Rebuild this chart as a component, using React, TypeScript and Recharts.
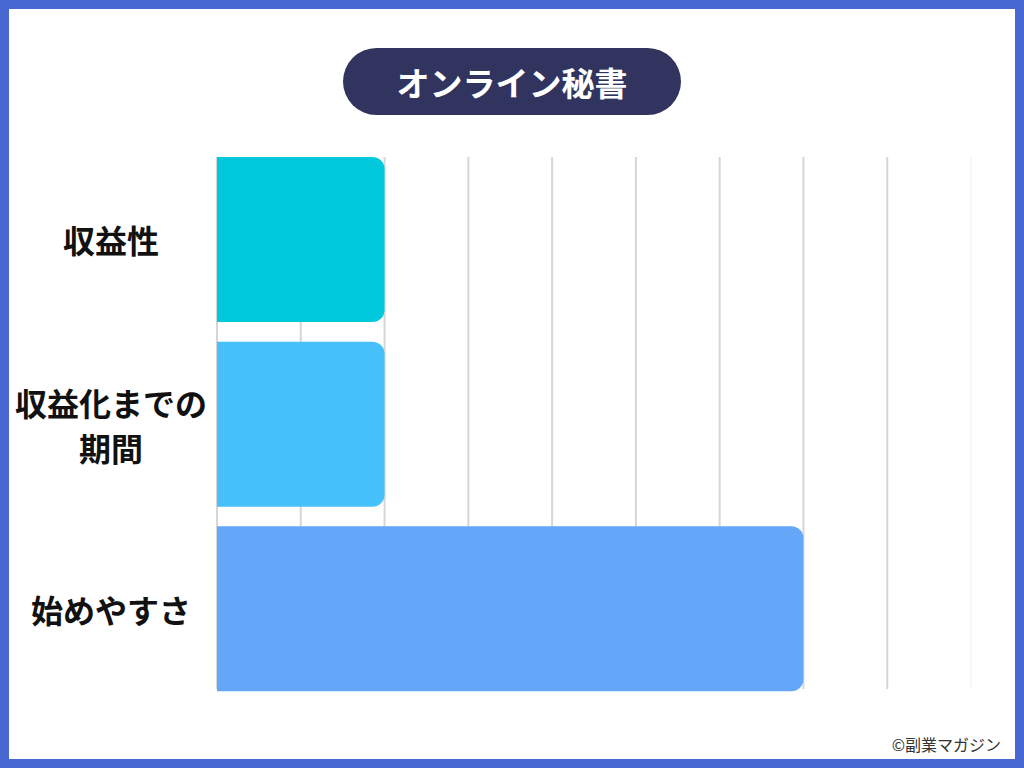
import React from 'react';
import { BarChart, Bar, XAxis, YAxis, CartesianGrid, Cell } from 'recharts';

const title = 'オンライン秘書';
const credit = '©副業マガジン';
const categories = ['収益性', '収益化までの期間', '始めやすさ'];
const tickLabelLines: string[][] = [['収益性'], ['収益化までの', '期間'], ['始めやすさ']];
const scores = [2, 2, 7];
const barColors = ['#00C9DB', '#47C1FC', '#64A6F8'];
const xTicks = [0, 1, 2, 3, 4, 5, 6, 7, 8, 9];

const data = categories.map((name, i) => ({ name, value: scores[i] }));

const FONT = '"Noto Sans CJK JP", "Noto Sans", sans-serif';

const YTick = (props: any) => {
  const { y, payload } = props;
  const idx = categories.indexOf(payload.value);
  const lines = tickLabelLines[idx] || [payload.value];
  const lh = 45;
  const startY = y - ((lines.length - 1) * lh) / 2;
  return (
    <text
      x={111}
      y={startY}
      textAnchor="middle"
      dominantBaseline="central"
      fontFamily={FONT}
      fontWeight={700}
      fontSize={32}
      fill="#111"
    >
      {lines.map((l, i) => (
        <tspan key={i} x={111} y={startY + i * lh} dominantBaseline="central">
          {l}
        </tspan>
      ))}
    </text>
  );
};

const GridLine = (props: any) => {
  const { x1, x2, y1, y2, index } = props;
  const last = index === xTicks.length - 1;
  return (
    <line
      key={props.key}
      x1={x1}
      x2={x2}
      y1={y1 + 10}
      y2={y2 - 12}
      stroke={last ? '#EEEEEE' : '#D6D6D6'}
      strokeWidth={last ? 1 : 2}
    />
  );
};

export default function App() {
  return (
    <div
      style={{
        position: 'fixed',
        left: 0,
        top: 0,
        width: 1024,
        height: 768,
        boxSizing: 'border-box',
        border: '9px solid #4767D2',
        background: '#FFFFFF',
        fontFamily: FONT,
        overflow: 'hidden',
      }}
    >
      <div style={{ position: 'absolute', left: -9, top: -9 }}>
        <BarChart
          width={1024}
          height={768}
          data={data}
          layout="vertical"
          margin={{ top: 147, right: 53, bottom: 67, left: 0 }}
          barSize={165}
        >
          <CartesianGrid horizontal={false} vertical={GridLine as any} />
          <XAxis type="number" domain={[0, 9]} ticks={xTicks} hide />
          <YAxis
            type="category"
            dataKey="name"
            width={217}
            axisLine={false}
            tickLine={false}
            tick={YTick}
            interval={0}
          />
          <Bar dataKey="value" radius={[0, 12, 12, 0]} isAnimationActive={false}>
            {data.map((d, i) => (
              <Cell key={d.name} fill={barColors[i]} />
            ))}
          </Bar>
        </BarChart>
      </div>
      <div
        style={{
          position: 'absolute',
          left: 343 - 9,
          top: 48 - 9,
          width: 338,
          height: 67,
          borderRadius: 34,
          background: '#31345E',
          color: '#FFFFFF',
          fontWeight: 700,
          fontSize: 33,
          display: 'flex',
          alignItems: 'center',
          justifyContent: 'center',
          letterSpacing: 0,
        }}
      >
        {title}
      </div>
      <div
        style={{
          position: 'absolute',
          right: 1024 - 1001 - 9,
          top: 732 - 9,
          fontSize: 16,
          color: '#333333',
          whiteSpace: 'nowrap',
        }}
      >
        {credit}
      </div>
    </div>
  );
}
